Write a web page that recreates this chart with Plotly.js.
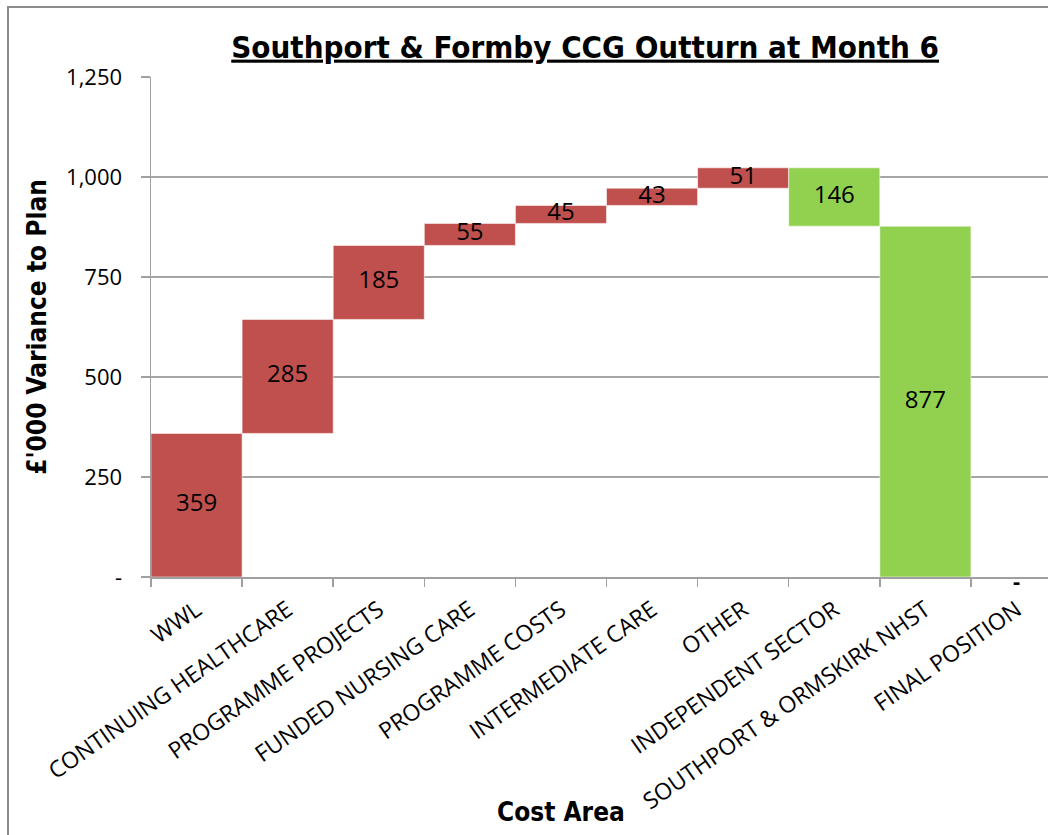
<!DOCTYPE html>
<html>
<head>
<meta charset="utf-8">
<script src="https://cdn.plot.ly/plotly-3.0.1.min.js"></script>
<style>
  html, body { margin: 0; padding: 0; background: #fff; }
  #chart { width: 1048px; height: 835px; }
  #frame { position: absolute; left: 7px; top: 6px; width: 1100px; height: 900px;
           border-left: 2px solid #8c8c8c; border-top: 2px solid #8c8c8c; pointer-events: none; }
</style>
</head>
<body>
<div id="chart"></div>
<div id="frame"></div>
<script>
const categories = ["WWL", "CONTINUING HEALTHCARE", "PROGRAMME PROJECTS", "FUNDED NURSING CARE",
  "PROGRAMME COSTS", "INTERMEDIATE CARE", "OTHER", "INDEPENDENT SECTOR",
  "SOUTHPORT & ORMSKIRK NHST", "FINAL POSITION"];
const changes = [359, 285, 185, 55, 45, 43, 51, -146, -877];
const finalValue = 0;
const finalLabel = "-";
const yTickVals = [0, 250, 500, 750, 1000, 1250];
const yTickText = ["-", "250", "500", "750", "1,000", "1,250"];

const RED = "#C0504D", GREEN = "#92D050";

// cumulative bases
const bases = [], heights = [], colors = [], texts = [], mids = [];
let run = 0;
changes.forEach(v => {
  const start = run, end = run + v;
  const b = Math.min(start, end);
  bases.push(b);
  heights.push(Math.abs(v));
  mids.push(b + Math.abs(v) / 2);
  colors.push(v >= 0 ? RED : GREEN);
  texts.push(String(Math.abs(v)));
  run = end;
});
const stepCats = categories.slice(0, changes.length);

const bars = {
  type: "bar",
  x: stepCats,
  y: heights,
  base: bases,
  marker: { color: colors, line: { color: "rgba(255,255,255,0.55)", width: 1 } },
  hoverinfo: "skip"
};

const labels = {
  type: "scatter",
  mode: "text",
  x: stepCats,
  y: mids,
  text: texts,
  textposition: "middle center",
  textfont: { family: "Open Sans, sans-serif", size: 24, color: "#000" },
  hoverinfo: "skip",
  cliponaxis: false
};

const layout = {
  width: 1048, height: 835,
  margin: { l: 151, r: 0, t: 77, b: 258 },
  paper_bgcolor: "#fff", plot_bgcolor: "#fff",
  showlegend: false,
  bargap: 0,
  title: {
    text: "<b><u>Southport & Formby CCG Outturn at Month 6</u></b>",
    font: { family: "DejaVu Sans Condensed, Liberation Sans Narrow, sans-serif", size: 31, color: "#000" },
    x: 0.484, xanchor: "center", xref: "paper",
    y: 0.944, yanchor: "middle", yref: "container"
  },
  xaxis: {
    type: "category",
    categoryorder: "array", categoryarray: categories,
    range: [-0.5, 9.346],
    tickangle: -35,
    tickson: "boundaries",
    ticks: "outside", ticklen: 8, tickcolor: "#a0a0a0", tickwidth: 1.5,
    ticklabelstandoff: 9,
    showline: true, linecolor: "#a0a0a0", linewidth: 1.5,
    showgrid: false, zeroline: false,
    tickfont: { family: "Open Sans, sans-serif", size: 23, color: "#000" },
    automargin: false, fixedrange: true
  },
  yaxis: {
    range: [0, 1250],
    tickvals: yTickVals, ticktext: yTickText,
    ticks: "outside", ticklen: 9, tickcolor: "#a0a0a0", tickwidth: 1.5,
    ticklabelstandoff: 14,
    showline: true, linecolor: "#a0a0a0", linewidth: 1.5,
    showgrid: true, gridcolor: "#a6a6a6", gridwidth: 1.5,
    zeroline: false,
    tickfont: { family: "Open Sans, sans-serif", size: 22, color: "#000" },
    title: { text: "<b>£'000 Variance to Plan</b>", font: { family: "DejaVu Sans Condensed, sans-serif", size: 26, color: "#000" }, standoff: 12 },
    automargin: false, fixedrange: true
  },
  annotations: [{
    text: "<b>Cost Area</b>",
    xref: "paper", yref: "paper",
    x: 0.457, y: -0.47, xanchor: "center", yanchor: "middle",
    showarrow: false,
    font: { family: "DejaVu Sans Condensed, sans-serif", size: 26, color: "#000" }
  }, {
    text: "<b>" + finalLabel + "</b>",
    xref: "x", yref: "y",
    x: categories[categories.length - 1], y: finalValue,
    xanchor: "center", yanchor: "middle", yshift: -3,
    showarrow: false,
    font: { family: "Open Sans, sans-serif", size: 22, color: "#000" }
  }]
};

Plotly.newPlot("chart", [bars, labels], layout, { displayModeBar: false, staticPlot: true });
</script>
</body>
</html>
